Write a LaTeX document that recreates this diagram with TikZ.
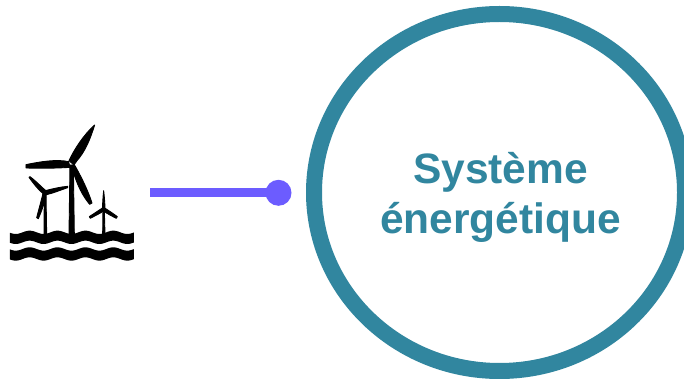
\documentclass[tikz,border=0pt]{standalone}
\usepackage{fontspec}
\setmainfont{Liberation Sans}
\usetikzlibrary{shapes.geometric}
\definecolor{ringcol}{HTML}{31869F}
\definecolor{linkcol}{HTML}{6C5CFF}
\tikzset{
  px/.style={x=1pt,y=-1pt},
  ring/.style={ellipse,draw=ringcol,line width=16pt,fill=white,minimum width=371pt,minimum height=357pt,inner sep=0pt},
  title/.style={text=ringcol,font=\bfseries\fontsize{42.5}{50}\selectfont,align=center,inner sep=0pt},
  linkdot/.style={circle,fill=linkcol,minimum size=26pt,inner sep=0pt},
  linkline/.style={draw=linkcol,line width=8.6pt},
  icon/.style={fill=black,draw=black,line width=0.9pt,line join=round},
  iconwave/.style={fill=black,draw=none},
}
\begin{document}
\begin{tikzpicture}[px]
\useasboundingbox (0,0) rectangle (684,379);
\clip (0,0) rectangle (684,379);
\fill[white] (0,0) rectangle (684,379);
\node[ring] (sys) at (499.5,192.5) {};
\node[title] (lab) at (500.5,197.5) {Système\\énergétique};
\node[linkdot] (dot) at (278.5,192.8) {};
\coordinate (start) at (150,192.8);
\draw[linkline] (start) -- (dot.center);
% wind turbines icon (zoom coordinates: 3 units per pixel, origin 0,110)
\begin{scope}[shift={(0,110)},x=0.3333pt,y=-0.3333pt]
  % large turbine
  \fill[icon] (207,372) -- (210,165) -- (220,165) -- (223,372) -- cycle;
  \filldraw[icon] (207,152) .. controls (222,120) and (250,75) .. (284,45) .. controls (270,90) and (255,125) .. (231,152) -- (222,165) -- cycle;
  \filldraw[icon] (78,164) .. controls (120,155) and (170,147) .. (206,155) -- (210,172) .. controls (170,175) and (120,175) .. (78,174) -- cycle;
  \filldraw[icon] (222,162) .. controls (238,190) and (262,235) .. (276,279) -- (269,283) .. controls (250,260) and (232,230) .. (215,170) -- cycle;
  % small left turbine
  \filldraw[icon] (132,372) -- (133,250) -- (138,250) -- (140,372) -- cycle;
  \filldraw[icon] (87,202) -- (90,200) .. controls (110,215) and (125,232) .. (140,244) -- (132,253) .. controls (115,240) and (100,220) .. (87,202) -- cycle;
  \filldraw[icon] (136,242) .. controls (160,236) and (180,231) .. (203,229) -- (203,233) .. controls (180,241) and (160,249) .. (140,254) -- cycle;
  \filldraw[icon] (129,250) -- (139,252) .. controls (134,280) and (124,305) .. (115,326) -- (110,323) .. controls (116,300) and (123,275) .. (129,250) -- cycle;
  % small right turbine
  \filldraw[icon] (308,372) -- (309,300) -- (313,300) -- (315,372) -- cycle;
  \filldraw[icon] (311,242) .. controls (313,260) and (315,280) .. (315,300) -- (307,300) .. controls (308,280) and (309,260) .. (311,242) -- cycle;
  \filldraw[icon] (306,295) -- (312,303) .. controls (298,311) and (284,318) .. (271,325) -- (268,320) .. controls (280,312) and (292,304) .. (306,295) -- cycle;
  \filldraw[icon] (314,294) .. controls (328,303) and (340,311) .. (352,320) -- (349,325) .. controls (335,318) and (322,311) .. (310,303) -- cycle;
  % waves
  \fill[iconwave] plot[domain=30:402,samples=80] (\x,{367-5*sin(4.3*(\x-68))}) -- plot[domain=402:30,samples=80] (\x,{397-5*sin(4.3*(\x-68))}) -- cycle;
  \fill[iconwave] plot[domain=30:402,samples=80] (\x,{417-5*sin(4.3*(\x-68))}) -- plot[domain=402:30,samples=80] (\x,{447-5*sin(4.3*(\x-68))}) -- cycle;
\end{scope}
\end{tikzpicture}
\end{document}
